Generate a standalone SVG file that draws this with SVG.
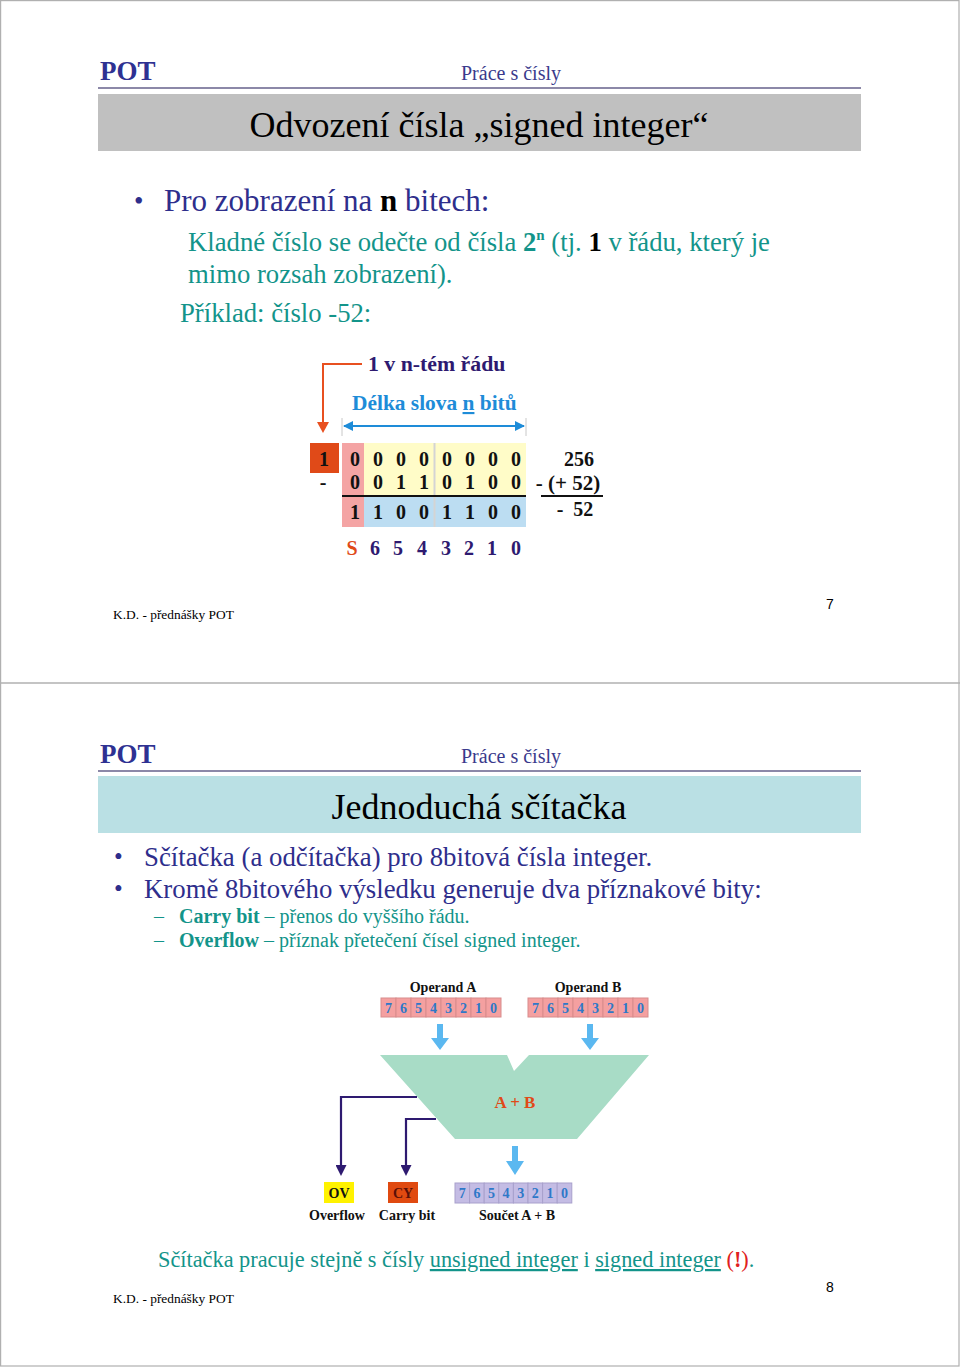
<svg xmlns="http://www.w3.org/2000/svg" width="960" height="1367" viewBox="0 0 960 1367">
<defs>
<style>
text{font-family:"Liberation Serif","Times New Roman",serif}
.pot{font-size:27px;font-weight:bold;fill:#2E3192}
.hdr{font-size:20px;fill:#3A3A8C}
.title{font-size:36px;fill:#000;text-anchor:middle}
.navy{fill:#2E2E8C}
.teal{fill:#13948A}
.foot{font-size:13.4px;fill:#000}
.pg{font-family:"Liberation Sans",Arial,sans-serif;font-size:14px;fill:#000}
.dig{font-size:20px;font-weight:bold;fill:#111;text-anchor:middle}
.idx{font-size:20px;font-weight:bold;fill:#2E1A70;text-anchor:middle}
.cell{fill:#F4A0A0;stroke:#D88C8C;stroke-width:1}
.rcell{fill:#C4BCE4;stroke:#A8A0CC;stroke-width:1}
.cd{font-size:14px;font-weight:bold;fill:#2E78C8;text-anchor:middle}
.lab{font-size:14px;font-weight:bold;fill:#111;text-anchor:middle}
.wire{fill:none;stroke:#2E1A70;stroke-width:2.2}
</style>
<marker id="pa" markerWidth="11" markerHeight="11" refX="0" refY="5.5" orient="auto" markerUnits="userSpaceOnUse" viewBox="0 0 11 11"><path d="M0,0 L11,5.5 L0,11 Z" fill="#2E1A70"/></marker>
<marker id="ba" markerWidth="10" markerHeight="10" refX="9" refY="5" orient="auto-start-reverse" markerUnits="userSpaceOnUse" viewBox="0 0 10 10"><path d="M0,0 L10,5 L0,10 Z" fill="#1E8CD8"/></marker>
</defs>
<rect width="960" height="1367" fill="#fff"/>
<g id="frame" fill="none" stroke="#B0B0B0" stroke-width="1.2">
<rect x="0.6" y="0.6" width="958.4" height="1365.4"/>
<line x1="0" y1="683" x2="960" y2="683" stroke-width="1.5"/>
</g>

<!-- Slide 7 -->
<g id="slide7-header">
<text class="pot" x="100" y="80">POT</text>
<text class="hdr" x="461" y="80">Práce s čísly</text>
<line x1="98" y1="88" x2="861" y2="88" stroke="#8C88A8" stroke-width="2"/>
<rect x="98" y="94" width="763" height="57" fill="#C0C0C0"/>
<text class="title" x="479" y="137">Odvození čísla „signed integer“</text>
</g>
<g id="slide7-text">
<text x="134" y="210" font-size="27" class="navy">•</text>
<text x="164" y="211" font-size="31" class="navy">Pro zobrazení na <tspan font-weight="bold" fill="#000">n</tspan> bitech:</text>
<text x="188" y="251" font-size="26.7" class="teal">Kladné číslo se odečte od čísla <tspan font-weight="bold">2</tspan><tspan font-weight="bold" font-size="15" dy="-11">n</tspan><tspan dy="11"> (tj. </tspan><tspan font-weight="bold" fill="#000">1</tspan> v řádu, který je</text>
<text x="188" y="283" font-size="26.7" class="teal">mimo rozsah zobrazení).</text>
<text x="180" y="322" font-size="26.7" class="teal">Příklad: číslo -52:</text>
</g>
<g id="binary-table">
<rect x="310" y="443" width="29" height="30" fill="#E04A18"/>
<rect x="342" y="443" width="22" height="84" fill="#F4A4A4"/>
<rect x="364" y="443" width="162" height="53" fill="#FFFCC8"/>
<rect x="364" y="497" width="162" height="30" fill="#BCDDF2"/>
<line x1="434.5" y1="443" x2="434.5" y2="527" stroke="#D4D4D4" stroke-width="2"/>
<line x1="342" y1="496" x2="526" y2="496" stroke="#111" stroke-width="2"/>
<text class="dig" x="324" y="466">1</text>
<text class="dig" x="323" y="489">-</text>
<g id="row1">
<text class="dig" x="355" y="466">0</text><text class="dig" x="378" y="466">0</text><text class="dig" x="401" y="466">0</text><text class="dig" x="424" y="466">0</text><text class="dig" x="447" y="466">0</text><text class="dig" x="470" y="466">0</text><text class="dig" x="493" y="466">0</text><text class="dig" x="516" y="466">0</text>
</g>
<g id="row2">
<text class="dig" x="355" y="489">0</text><text class="dig" x="378" y="489">0</text><text class="dig" x="401" y="489">1</text><text class="dig" x="424" y="489">1</text><text class="dig" x="447" y="489">0</text><text class="dig" x="470" y="489">1</text><text class="dig" x="493" y="489">0</text><text class="dig" x="516" y="489">0</text>
</g>
<g id="row3">
<text class="dig" x="355" y="519">1</text><text class="dig" x="378" y="519">1</text><text class="dig" x="401" y="519">0</text><text class="dig" x="424" y="519">0</text><text class="dig" x="447" y="519">1</text><text class="dig" x="470" y="519">1</text><text class="dig" x="493" y="519">0</text><text class="dig" x="516" y="519">0</text>
</g>
<g id="index-row">
<text class="idx" x="352" y="555" style="fill:#E04A18">S</text><text class="idx" x="375" y="555">6</text><text class="idx" x="398" y="555">5</text><text class="idx" x="422" y="555">4</text><text class="idx" x="446" y="555">3</text><text class="idx" x="469" y="555">2</text><text class="idx" x="492" y="555">1</text><text class="idx" x="516" y="555">0</text>
</g>
<text class="dig" x="579" y="466">256</text>
<text class="dig" x="568" y="490" font-size="21" style="font-size:21px">- (+ 52)</text>
<line x1="541" y1="496" x2="603" y2="496" stroke="#111" stroke-width="2"/>
<text class="dig" x="575" y="516" xml:space="preserve">-  52</text>
</g>
<g id="labels7">
<text x="368" y="371" font-size="21.8" font-weight="bold" fill="#2E1A70">1 v n-tém řádu</text>
<text x="352" y="410" font-size="21.4" font-weight="bold" fill="#1E8CD8">Délka slova <tspan text-decoration="underline">n</tspan> bitů</text>
</g>
<g id="connectors7">
<path d="M362,364 H323 V424" fill="none" stroke="#E85020" stroke-width="2"/>
<path d="M317,422 L329,422 L323,433 Z" fill="#E85020"/>
<line x1="342" y1="418" x2="342" y2="436" stroke="#C8C8C8" stroke-width="1"/>
<line x1="526" y1="418" x2="526" y2="436" stroke="#C8C8C8" stroke-width="1"/>
<line x1="344" y1="426" x2="524" y2="426" stroke="#1E8CD8" stroke-width="2" marker-start="url(#ba)" marker-end="url(#ba)"/>
</g>
<g id="footer7">
<text class="foot" x="113" y="619">K.D. - přednášky POT</text>
<text class="pg" x="826" y="609">7</text>
</g>

<!-- Slide 8 -->
<g id="slide8-header">
<text class="pot" x="100" y="763">POT</text>
<text class="hdr" x="461" y="763">Práce s čísly</text>
<line x1="98" y1="771" x2="861" y2="771" stroke="#8C88A8" stroke-width="2"/>
<rect x="98" y="776" width="763" height="57" fill="#BAE0E4"/>
<text class="title" x="479" y="819">Jednoduchá sčítačka</text>
</g>
<g id="slide8-text">
<text x="114" y="865" font-size="25" class="navy">•</text>
<text x="144" y="866" font-size="26.8" class="navy">Sčítačka (a odčítačka) pro 8bitová čísla integer.</text>
<text x="114" y="897" font-size="25" class="navy">•</text>
<text x="144" y="898" font-size="26.8" class="navy">Kromě 8bitového výsledku generuje dva příznakové bity:</text>
<text x="154" y="923" font-size="20" class="teal">–</text>
<text x="179" y="923" font-size="20" class="teal"><tspan font-weight="bold">Carry bit</tspan> – přenos do vyššího řádu.</text>
<text x="154" y="947" font-size="20" class="teal">–</text>
<text x="179" y="947" font-size="20" class="teal"><tspan font-weight="bold">Overflow</tspan> – příznak přetečení čísel signed integer.</text>
</g>
<g id="operandA">
<text class="lab" x="443" y="992">Operand A</text>
<rect class="cell" x="381" y="998" width="15" height="19"/><rect class="cell" x="396" y="998" width="15" height="19"/><rect class="cell" x="411" y="998" width="15" height="19"/><rect class="cell" x="426" y="998" width="15" height="19"/><rect class="cell" x="441" y="998" width="15" height="19"/><rect class="cell" x="456" y="998" width="15" height="19"/><rect class="cell" x="471" y="998" width="15" height="19"/><rect class="cell" x="486" y="998" width="15" height="19"/>
<text class="cd" x="388.5" y="1013">7</text><text class="cd" x="403.5" y="1013">6</text><text class="cd" x="418.5" y="1013">5</text><text class="cd" x="433.5" y="1013">4</text><text class="cd" x="448.5" y="1013">3</text><text class="cd" x="463.5" y="1013">2</text><text class="cd" x="478.5" y="1013">1</text><text class="cd" x="493.5" y="1013">0</text>
</g>
<g id="operandB">
<text class="lab" x="588" y="992">Operand B</text>
<rect class="cell" x="528" y="998" width="15" height="19"/><rect class="cell" x="543" y="998" width="15" height="19"/><rect class="cell" x="558" y="998" width="15" height="19"/><rect class="cell" x="573" y="998" width="15" height="19"/><rect class="cell" x="588" y="998" width="15" height="19"/><rect class="cell" x="603" y="998" width="15" height="19"/><rect class="cell" x="618" y="998" width="15" height="19"/><rect class="cell" x="633" y="998" width="15" height="19"/>
<text class="cd" x="535.5" y="1013">7</text><text class="cd" x="550.5" y="1013">6</text><text class="cd" x="565.5" y="1013">5</text><text class="cd" x="580.5" y="1013">4</text><text class="cd" x="595.5" y="1013">3</text><text class="cd" x="610.5" y="1013">2</text><text class="cd" x="625.5" y="1013">1</text><text class="cd" x="640.5" y="1013">0</text>
</g>
<g id="adder">
<path d="M380,1055 H507 L514,1071 L529,1055 H649 L577,1139 H455 Z" fill="#A8DCC6"/>
<text x="515" y="1108" font-size="17" font-weight="bold" fill="#E04A18" text-anchor="middle">A + B</text>
</g>
<g id="connectors8">
<path d="M437,1024 h6 v14 h6 l-9,12 l-9,-12 h6 Z" fill="#5BB8F0"/>
<path d="M587,1024 h6 v14 h6 l-9,12 l-9,-12 h6 Z" fill="#5BB8F0"/>
<path d="M512,1146 h6 v15 h6 l-9,14 l-9,-14 h6 Z" fill="#5BB8F0"/>
<path class="wire" d="M417,1097 H341 V1165" marker-end="url(#pa)"/>
<path class="wire" d="M436,1119 H406 V1165" marker-end="url(#pa)"/>
</g>
<g id="ov">
<rect x="324" y="1182" width="30" height="21" fill="#FFF200"/>
<text class="lab" x="339" y="1198">OV</text>
<text class="lab" x="337" y="1220">Overflow</text>
</g>
<g id="cy">
<rect x="388" y="1182" width="30" height="21" fill="#E04A10"/>
<text class="lab" x="403" y="1198" style="fill:#5A1008">CY</text>
<text class="lab" x="407" y="1220">Carry bit</text>
</g>
<g id="result">
<rect class="rcell" x="455" y="1183" width="14.6" height="20"/><rect class="rcell" x="469.6" y="1183" width="14.6" height="20"/><rect class="rcell" x="484.2" y="1183" width="14.6" height="20"/><rect class="rcell" x="498.8" y="1183" width="14.6" height="20"/><rect class="rcell" x="513.4" y="1183" width="14.6" height="20"/><rect class="rcell" x="528" y="1183" width="14.6" height="20"/><rect class="rcell" x="542.6" y="1183" width="14.6" height="20"/><rect class="rcell" x="557.2" y="1183" width="14.6" height="20"/>
<text class="cd" x="462.3" y="1198">7</text><text class="cd" x="476.9" y="1198">6</text><text class="cd" x="491.5" y="1198">5</text><text class="cd" x="506.1" y="1198">4</text><text class="cd" x="520.7" y="1198">3</text><text class="cd" x="535.3" y="1198">2</text><text class="cd" x="549.9" y="1198">1</text><text class="cd" x="564.5" y="1198">0</text>
<text class="lab" x="517" y="1220">Součet A + B</text>
</g>
<g id="slide8-note">
<text x="158" y="1267" font-size="22.3" class="teal">Sčítačka pracuje stejně s čísly <tspan text-decoration="underline">unsigned integer</tspan> i <tspan text-decoration="underline">signed integer</tspan> <tspan fill="#E02020">(<tspan font-weight="bold">!</tspan>)</tspan>.</text>
</g>
<g id="footer8">
<text class="foot" x="113" y="1303">K.D. - přednášky POT</text>
<text class="pg" x="826" y="1292">8</text>
</g>
</svg>
